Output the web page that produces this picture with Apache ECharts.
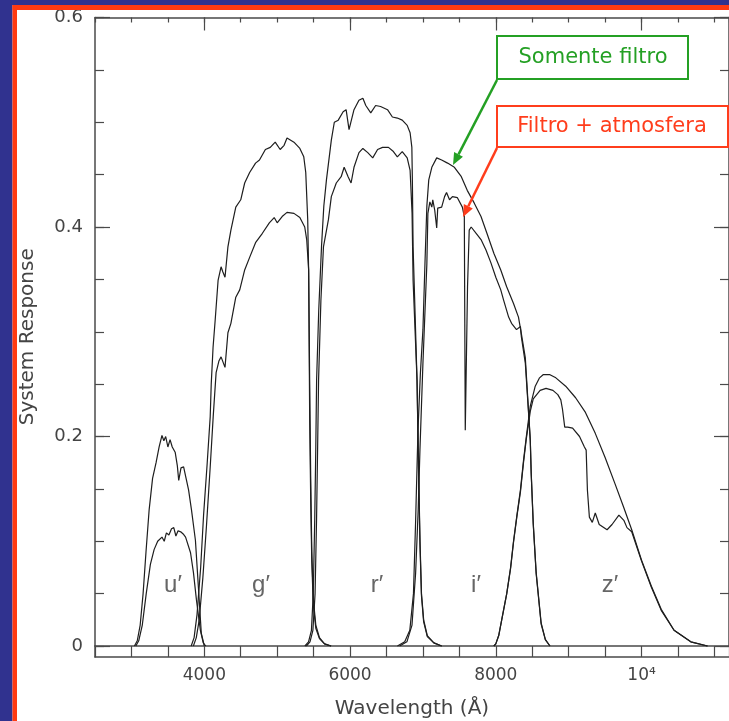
<!DOCTYPE html>
<html><head><meta charset="utf-8">
<script src="https://cdn.jsdelivr.net/npm/echarts@6/dist/echarts.min.js"></script>
<style>html,body{margin:0;padding:0;background:#fff;}#c{width:729px;height:721px;}</style>
</head><body><div id="c"></div><script>
// ---- data (wavelength in Å, system response) ----
const uFilter = [[3041,0],[3080,0.005],[3120,0.02],[3160,0.05],[3200,0.09],[3243,0.13],[3290,0.16],[3338,0.175],[3380,0.19],[3419,0.201],[3445,0.196],[3470,0.2],[3500,0.19],[3530,0.197],[3560,0.19],[3600,0.185],[3630,0.172],[3649,0.158],[3680,0.17],[3716,0.171],[3750,0.16],[3784,0.149],[3824,0.13],[3878,0.101],[3919,0.056],[3959,0.012],[4000,0]];
const uAtmos = [[3060,0],[3100,0.005],[3149,0.02],[3203,0.05],[3260,0.078],[3311,0.092],[3360,0.1],[3419,0.104],[3450,0.1],[3480,0.108],[3514,0.106],[3550,0.112],[3581,0.113],[3610,0.105],[3640,0.11],[3676,0.109],[3710,0.107],[3743,0.104],[3811,0.089],[3851,0.07],[3892,0.044],[3946,0.015],[3986,0.003],[4020,0]];
const gFilter = [[3820,0],[3860,0.008],[3900,0.03],[3950,0.075],[3990,0.125],[4040,0.175],[4081,0.219],[4095,0.25],[4120,0.285],[4149,0.311],[4189,0.349],[4230,0.362],[4255,0.357],[4284,0.352],[4324,0.381],[4365,0.397],[4432,0.419],[4500,0.426],[4554,0.442],[4622,0.452],[4703,0.461],[4757,0.464],[4838,0.474],[4905,0.476],[4973,0.481],[5041,0.474],[5095,0.478],[5135,0.485],[5230,0.481],[5311,0.475],[5365,0.467],[5392,0.452],[5419,0.407],[5432,0.356],[5446,0.25],[5460,0.16],[5475,0.09],[5495,0.045],[5530,0.02],[5580,0.008],[5650,0.002],[5740,0]];
const gAtmos = [[3850,0],[3890,0.008],[3930,0.025],[3980,0.065],[4030,0.115],[4080,0.17],[4122,0.219],[4162,0.261],[4200,0.272],[4230,0.276],[4284,0.266],[4324,0.299],[4365,0.308],[4432,0.333],[4486,0.34],[4554,0.359],[4622,0.371],[4703,0.385],[4797,0.394],[4892,0.404],[4959,0.409],[5000,0.404],[5068,0.41],[5135,0.414],[5230,0.413],[5311,0.409],[5378,0.4],[5405,0.388],[5432,0.359],[5446,0.216],[5460,0.14],[5475,0.08],[5495,0.04],[5530,0.017],[5580,0.007],[5650,0.002],[5740,0]];
const rFilter = [[5380,0],[5430,0.004],[5470,0.015],[5495,0.05],[5515,0.12],[5530,0.19],[5541,0.254],[5570,0.32],[5608,0.381],[5640,0.42],[5676,0.445],[5743,0.483],[5784,0.5],[5838,0.502],[5905,0.51],[5946,0.512],[5986,0.493],[6054,0.512],[6122,0.521],[6176,0.523],[6216,0.516],[6284,0.509],[6351,0.516],[6419,0.515],[6514,0.512],[6581,0.505],[6649,0.504],[6716,0.502],[6784,0.497],[6824,0.49],[6848,0.476],[6855,0.445],[6865,0.381],[6892,0.318],[6919,0.254],[6940,0.17],[6960,0.1],[6980,0.05],[7010,0.025],[7060,0.01],[7150,0.003],[7257,0]];
const rAtmos = [[5400,0],[5450,0.004],[5490,0.015],[5520,0.05],[5540,0.12],[5555,0.19],[5568,0.254],[5600,0.33],[5635,0.381],[5703,0.407],[5743,0.429],[5811,0.442],[5878,0.448],[5919,0.457],[5973,0.448],[6014,0.442],[6054,0.457],[6122,0.471],[6176,0.475],[6243,0.471],[6311,0.466],[6378,0.474],[6446,0.476],[6527,0.476],[6595,0.472],[6649,0.467],[6716,0.472],[6784,0.466],[6824,0.454],[6851,0.413],[6865,0.349],[6919,0.254],[6940,0.165],[6960,0.095],[6980,0.048],[7010,0.023],[7060,0.009],[7150,0.003],[7257,0]];
const iFilter = [[6650,0],[6750,0.004],[6820,0.015],[6870,0.05],[6900,0.12],[6932,0.206],[6965,0.26],[7000,0.302],[7030,0.37],[7054,0.42],[7080,0.445],[7122,0.457],[7189,0.466],[7257,0.464],[7338,0.461],[7432,0.457],[7527,0.448],[7608,0.435],[7703,0.423],[7797,0.41],[7878,0.394],[7973,0.375],[8068,0.359],[8149,0.343],[8243,0.327],[8311,0.314],[8351,0.298],[8405,0.275],[8446,0.228],[8473,0.197],[8486,0.165],[8514,0.117],[8554,0.07],[8622,0.022],[8680,0.006],[8743,0]];
const iAtmos = [[6680,0],[6780,0.004],[6850,0.02],[6900,0.07],[6935,0.13],[6959,0.187],[7000,0.27],[7054,0.365],[7068,0.413],[7095,0.424],[7122,0.419],[7135,0.426],[7162,0.416],[7189,0.399],[7203,0.418],[7257,0.419],[7297,0.429],[7324,0.433],[7365,0.426],[7405,0.429],[7473,0.428],[7541,0.419],[7568,0.41],[7581,0.206],[7600,0.206],[7612,0.343],[7635,0.397],[7662,0.4],[7730,0.394],[7797,0.388],[7865,0.378],[7932,0.366],[8000,0.352],[8068,0.34],[8108,0.33],[8176,0.314],[8216,0.308],[8284,0.302],[8338,0.305],[8351,0.295],[8405,0.27],[8446,0.226],[8473,0.196],[8486,0.164],[8514,0.116],[8554,0.069],[8622,0.021],[8680,0.006],[8743,0]];
const zFilter = [[7973,0],[8000,0.002],[8040,0.01],[8081,0.025],[8150,0.05],[8203,0.075],[8243,0.1],[8290,0.125],[8338,0.149],[8380,0.177],[8419,0.2],[8473,0.229],[8541,0.248],[8600,0.256],[8649,0.259],[8743,0.259],[8824,0.256],[8959,0.248],[9095,0.237],[9230,0.223],[9365,0.203],[9500,0.18],[9635,0.155],[9757,0.132],[9865,0.111],[10000,0.082],[10135,0.057],[10270,0.035],[10446,0.015],[10676,0.004],[10905,0]];
const zAtmos = [[7973,0],[8000,0.002],[8040,0.01],[8081,0.025],[8150,0.05],[8203,0.074],[8243,0.099],[8290,0.124],[8338,0.147],[8380,0.175],[8419,0.198],[8473,0.224],[8514,0.236],[8608,0.244],[8689,0.246],[8784,0.244],[8851,0.24],[8892,0.235],[8915,0.226],[8946,0.209],[8986,0.209],[9054,0.208],[9149,0.2],[9216,0.19],[9240,0.187],[9257,0.149],[9284,0.123],[9324,0.118],[9365,0.127],[9419,0.116],[9527,0.111],[9595,0.116],[9689,0.125],[9757,0.12],[9800,0.113],[9865,0.109],[10000,0.081],[10135,0.056],[10270,0.034],[10446,0.015],[10676,0.004],[10905,0]];

// ---- axes / labels ----
const xRange = [2500, 11200];
const yRange = [0, 0.6];
const xLabelValues = [4000, 6000, 8000, 10000];
const yLabelValues = [0, 0.2, 0.4, 0.6];
const bandNames = ['u′', 'g′', 'r′', 'i′', 'z′'];
const legendTexts = ['Somente filtro', 'Filtro + atmosfera'];

const AX = '#4a4a4a';
const FONT = 'DejaVu Sans';
const curveColor = '#1e1e1e';

const chart = echarts.init(document.getElementById('c'), null, {renderer: 'canvas'});

const hid = {show: false};
const axLine = {show: true, onZero: false, lineStyle: {color: AX, width: 1.5}};
const tickStyle = {color: AX, width: 1.2};

const xAxes = [
  // grid 0: zero line (bottom of data area)
  {gridIndex: 0, type: 'value', position: 'bottom', min: xRange[0], max: xRange[1],
   axisLine: axLine, axisTick: hid, axisLabel: hid, splitLine: hid},
  // grid 0: top frame, short ticks every 500 Å
  {gridIndex: 0, type: 'value', position: 'top', min: xRange[0], max: xRange[1], interval: 500,
   axisLine: axLine, axisTick: {inside: true, length: 5, lineStyle: tickStyle},
   axisLabel: hid, splitLine: hid},
  // grid 0: top long ticks at labelled values
  {gridIndex: 0, type: 'value', position: 'top', min: xRange[0], max: xRange[1],
   axisLine: {show: false, onZero: false},
   axisTick: {inside: true, length: 13, customValues: xLabelValues, lineStyle: tickStyle},
   axisLabel: hid, splitLine: hid},
  // grid 1: tick strip under the zero line + bottom frame + labels
  {gridIndex: 1, type: 'value', position: 'bottom', min: xRange[0], max: xRange[1], interval: 500,
   axisLine: axLine, axisTick: hid,
   splitLine: {show: true, lineStyle: tickStyle},
   axisLabel: {customValues: xLabelValues, formatter: v => v === 10000 ? '10⁴' : String(v),
     margin: 10, fontSize: 17, color: '#444', fontFamily: FONT},
   name: 'Wavelength (Å)', nameLocation: 'middle', nameGap: 42,
   nameTextStyle: {fontSize: 20, color: '#444', fontFamily: FONT}}
];

const yAxes = [
  {gridIndex: 0, type: 'value', position: 'left', min: yRange[0], max: yRange[1], interval: 0.2,
   axisLine: axLine,
   axisTick: {show: true, inside: true, length: 15, lineStyle: tickStyle},
   axisLabel: {formatter: v => v === 0 ? '0' : v.toFixed(1),
     margin: 12, fontSize: 18, color: '#444', fontFamily: FONT},
   splitLine: hid,
   name: 'System Response', nameLocation: 'middle', nameGap: 57,
   nameTextStyle: {fontSize: 20, color: '#444', fontFamily: FONT, padding: [0, 10, 0, 0]}},
  {gridIndex: 0, type: 'value', position: 'left', min: yRange[0], max: yRange[1], interval: 0.05,
   axisLine: {show: false, onZero: false},
   axisTick: {show: true, inside: true, length: 9, lineStyle: tickStyle},
   axisLabel: hid, splitLine: hid},
  {gridIndex: 0, type: 'value', position: 'right', min: yRange[0], max: yRange[1], interval: 0.2,
   axisLine: axLine,
   axisTick: {show: true, inside: true, length: 15, lineStyle: tickStyle},
   axisLabel: hid, splitLine: hid},
  {gridIndex: 0, type: 'value', position: 'right', min: yRange[0], max: yRange[1], interval: 0.05,
   axisLine: {show: false, onZero: false},
   axisTick: {show: true, inside: true, length: 9, lineStyle: tickStyle},
   axisLabel: hid, splitLine: hid},
  // grid 1: left frame continuation
  {gridIndex: 1, type: 'value', position: 'left', min: 0, max: 1,
   axisLine: axLine, axisTick: hid, axisLabel: hid, splitLine: hid}
];

const bands = [
  ['u′ filtro', uFilter], ['u′ filtro+atm', uAtmos],
  ['g′ filtro', gFilter], ['g′ filtro+atm', gAtmos],
  ['r′ filtro', rFilter], ['r′ filtro+atm', rAtmos],
  ['i′ filtro', iFilter], ['i′ filtro+atm', iAtmos],
  ['z′ filtro', zFilter], ['z′ filtro+atm', zAtmos]
];

const series = bands.map(([name, data]) => ({
  name, type: 'line', data, xAxisIndex: 0, yAxisIndex: 0,
  showSymbol: false, symbol: 'none', smooth: false, silent: true, clip: false,
  lineStyle: {color: curveColor, width: 1.2},
  z: 3
}));

// band labels placement (pixels)
const bandLabelPos = [[173, 585], [261, 585], [377, 585], [476, 585], [610, 585]];

function arrow(x1, y1, x2, y2, color) {
  const dx = x2 - x1, dy = y2 - y1, L = Math.hypot(dx, dy);
  const ux = dx / L, uy = dy / L, hl = 12, hw = 5;
  const bx = x2 - ux * hl, by = y2 - uy * hl;
  return [
    {type: 'line', shape: {x1, y1, x2: bx, y2: by}, style: {stroke: color, lineWidth: 2.5}, z: 100},
    {type: 'polygon', shape: {points: [[x2, y2], [bx - uy * hw, by + ux * hw], [bx + uy * hw, by - ux * hw]]},
     style: {fill: color}, z: 100}
  ];
}

const GREEN = '#24a024', RED = '#ff3d1c';
const graphic = [
  {type: 'rect', shape: {x: 0, y: 0, width: 12.5, height: 721}, style: {fill: '#30328f'}, z: 100},
  {type: 'rect', shape: {x: 0, y: 0, width: 729, height: 5}, style: {fill: '#30328f'}, z: 100},
  {type: 'rect', shape: {x: 12.5, y: 5, width: 4.5, height: 716}, style: {fill: '#ff3a12'}, z: 100},
  {type: 'rect', shape: {x: 12.5, y: 5, width: 716.5, height: 5}, style: {fill: '#ff3a12'}, z: 100},
  {type: 'rect', shape: {x: 497, y: 36, width: 191, height: 43}, style: {fill: '#fff', stroke: GREEN, lineWidth: 2}, z: 100},
  {type: 'text', x: 593, y: 58, style: {text: legendTexts[0], fill: GREEN, font: '21px "DejaVu Sans"', align: 'center', verticalAlign: 'middle'}, z: 101},
  {type: 'rect', shape: {x: 497, y: 106, width: 231, height: 41}, style: {fill: '#fff', stroke: RED, lineWidth: 2}, z: 100},
  {type: 'text', x: 612, y: 127, style: {text: legendTexts[1], fill: RED, font: '21px "DejaVu Sans"', align: 'center', verticalAlign: 'middle'}, z: 101},
  ...arrow(497, 80, 453, 165, GREEN),
  ...arrow(497, 148, 463, 217, RED),
  ...bandNames.map((t, i) => ({type: 'text', x: bandLabelPos[i][0], y: bandLabelPos[i][1],
    style: {text: t, fill: '#666', font: '24px "Liberation Sans"', align: 'center', verticalAlign: 'middle'}, z: 50}))
];

chart.setOption({
  backgroundColor: '#ffffff',
  animation: false,
  grid: [
    {left: 95, right: -9, top: 17.5, bottom: 75, containLabel: false},
    {left: 95, right: -9, top: 646, bottom: 64, containLabel: false}
  ],
  xAxis: xAxes,
  yAxis: yAxes,
  series,
  graphic
});
</script></body></html>
